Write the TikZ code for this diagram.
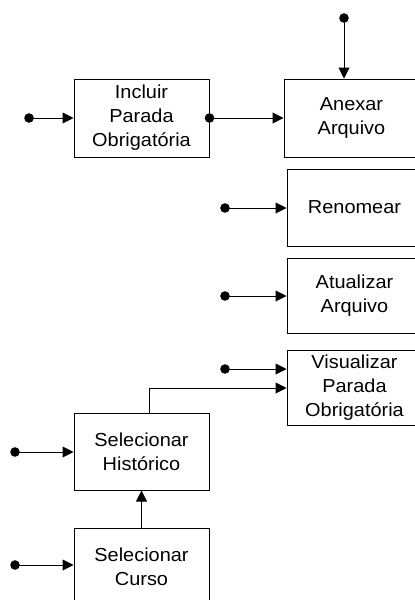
\documentclass[tikz,border=0pt]{standalone}
\usepackage{fontspec}
\setmainfont[FakeStretch=1.06]{Liberation Sans}
\usetikzlibrary{arrows.meta}
\begin{document}
\begin{tikzpicture}[x=1pt,y=-1pt,
  line width=1pt,
  stepbox/.style={draw, line width=1pt, minimum width=135pt, inner sep=0pt,
    align=center, font=\fontsize{18.8}{24}\selectfont},
  flow/.style={-{Triangle[length=11pt,width=11pt]}}]
\useasboundingbox (0,0) rectangle (415,600);
\clip (0,0) rectangle (415,600);

% activity boxes
\node[stepbox, minimum height=78pt] (inc) at (141.5,118)   {Incluir\\Parada\\Obrigatória};
\node[stepbox, minimum height=78pt] (anx) at (351.5,118)   {Anexar\\Arquivo};
\node[stepbox, minimum height=77pt] (ren) at (354.5,207.5) {Renomear};
\node[stepbox, minimum height=75pt] (atu) at (354.5,295.5) {Atualizar\\Arquivo};
\node[stepbox, minimum height=75pt] (vis) at (354.5,387.5) {Visualizar\\Parada\\Obrigatória};
\node[stepbox, minimum height=77pt] (his) at (141.5,451.5) {Selecionar\\Histórico};
\node[stepbox, minimum height=77pt] (cur) at (141.5,566.5) {Selecionar\\Curso};

% input points
\coordinate (d1) at (29,118);
\coordinate (d2) at (344,18);
\coordinate (d3) at (225,208);
\coordinate (d4) at (225,296);
\coordinate (d5) at (225,369);
\coordinate (d6) at (15,452);
\coordinate (d7) at (15,565);
\coordinate (bend) at (149,388);

\foreach \p in {d1,d2,d3,d4,d5,d6,d7} \fill (\p) circle[radius=4.8pt];
\fill (inc.east) circle[radius=4.8pt];

% connectors
\draw[flow] (d1) -- (inc.west);
\draw[flow] (inc.east) -- (anx.west);
\draw[flow] (d2) -- (d2 |- anx.north);
\draw[flow] (d3) -- (d3 -| ren.west);
\draw[flow] (d4) -- (d4 -| atu.west);
\draw[flow] (d5) -- (d5 -| vis.west);
\draw[flow] (bend |- his.north) -- (bend) -- (bend -| vis.west);
\draw[flow] (d6) -- (d6 -| his.west);
\draw[flow] (d7) -- (d7 -| cur.west);
\draw[flow] (cur.north) -- (his.south);
\end{tikzpicture}
\end{document}
